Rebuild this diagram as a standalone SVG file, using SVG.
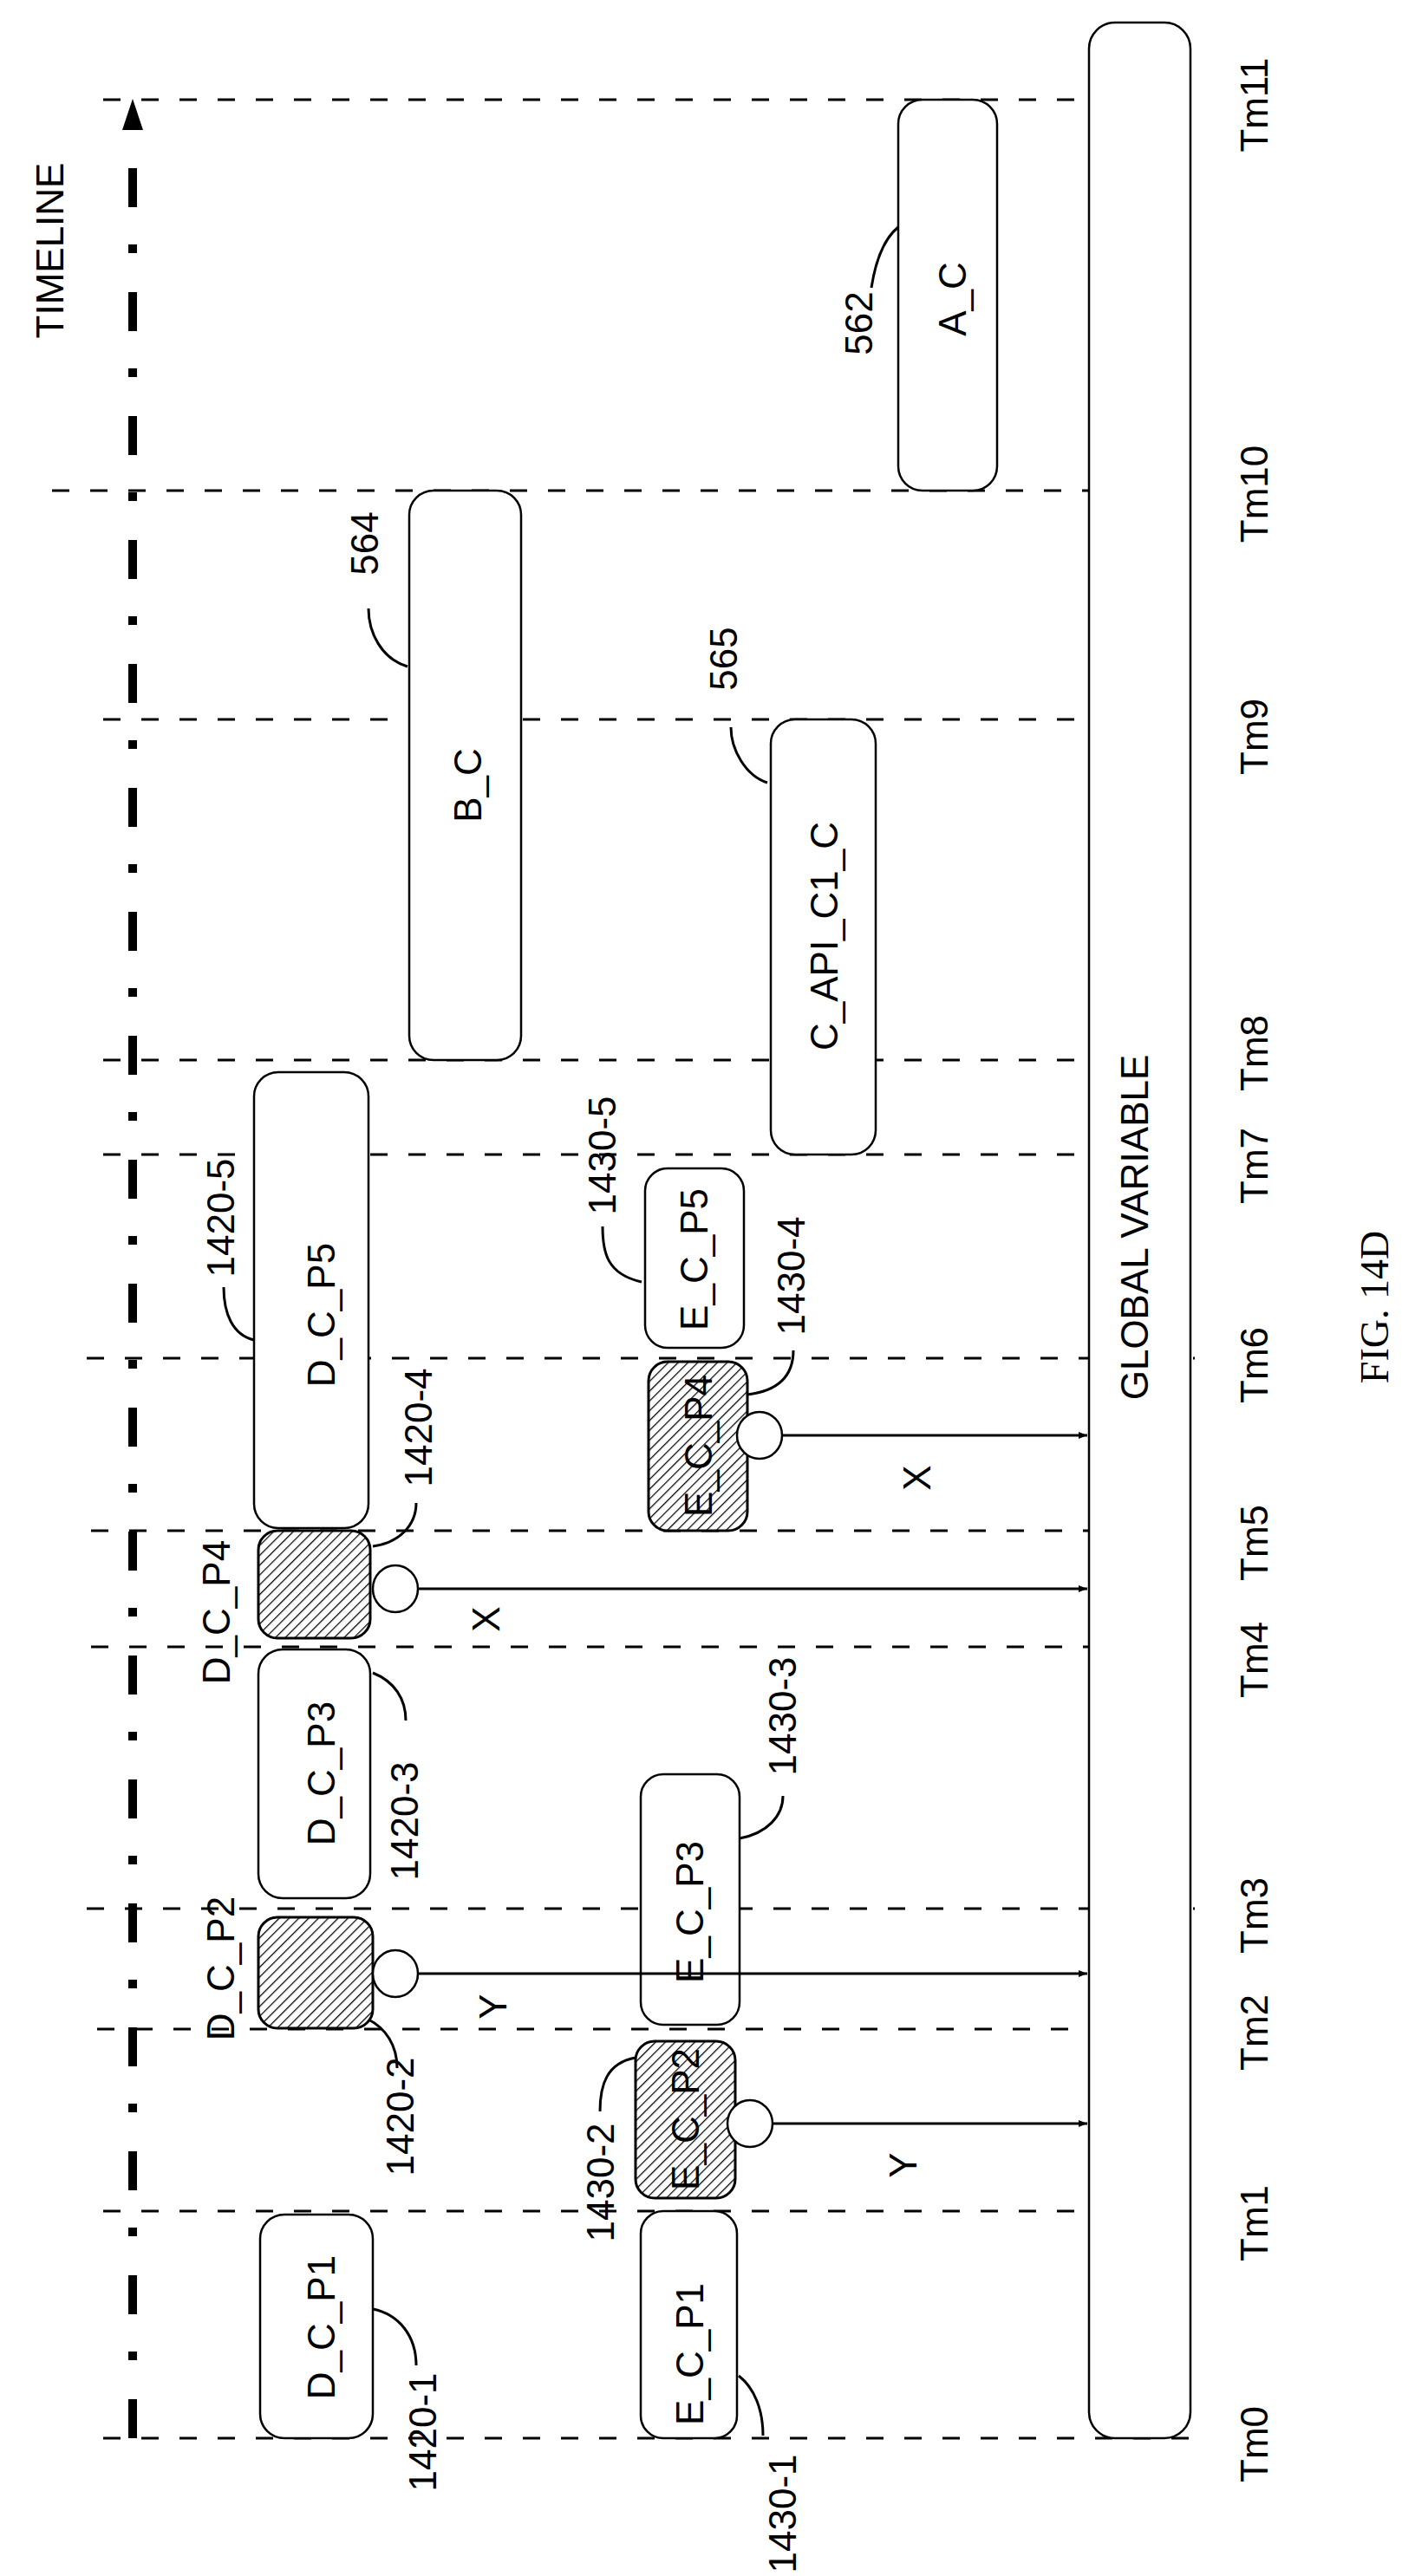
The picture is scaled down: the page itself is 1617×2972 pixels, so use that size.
<svg xmlns="http://www.w3.org/2000/svg" width="1617" height="2972" viewBox="0 0 1617 2972">
<style>
text{font-family:"Liberation Sans",Arial,sans-serif;font-size:44px;fill:#000;text-anchor:middle;dominant-baseline:central}
.box{fill:#fff;stroke:#000;stroke-width:2.5}
.hat{fill:url(#hatch);stroke:#000;stroke-width:3}
.tm{stroke:#000;stroke-width:3;stroke-dasharray:20 24;fill:none}
.lead{fill:none;stroke:#000;stroke-width:3}
.arr{stroke:#000;stroke-width:3;marker-end:url(#ah)}
.circ{fill:#fff;stroke:#000;stroke-width:2.5}
</style>
<defs>
<pattern id="hatch" width="8" height="8" patternUnits="userSpaceOnUse" patternTransform="rotate(45)">
<rect width="8" height="8" fill="#fff"/><line x1="0" y1="0" x2="0" y2="8" stroke="#000" stroke-width="2.5"/>
</pattern>
<marker id="ah" markerWidth="10" markerHeight="8" refX="10" refY="4" orient="auto" markerUnits="userSpaceOnUse" viewBox="0 0 10 8">
<path d="M0,0 L10,4 L0,8 Z" fill="#000"/>
</marker>
<marker id="ah2" markerWidth="24" markerHeight="36" refX="12" refY="36" orient="0" markerUnits="userSpaceOnUse">
<path d="M0,36 L12,0 L24,36 Z" fill="#000"/>
</marker>
</defs>
<g id="timelines">
<line class="tm" x1="119" y1="115" x2="1378" y2="115"/>
<line class="tm" x1="60" y1="566" x2="1378" y2="566"/>
<line class="tm" x1="119" y1="830" x2="1378" y2="830"/>
<line class="tm" x1="119" y1="1223" x2="1378" y2="1223"/>
<line class="tm" x1="119" y1="1332" x2="1378" y2="1332"/>
<line class="tm" x1="100" y1="1567" x2="1378" y2="1567"/>
<line class="tm" x1="105" y1="1766" x2="1378" y2="1766"/>
<line class="tm" x1="105" y1="1900" x2="1378" y2="1900"/>
<line class="tm" x1="100" y1="2202" x2="1378" y2="2202"/>
<line class="tm" x1="112" y1="2341" x2="1378" y2="2341"/>
<line class="tm" x1="119" y1="2551" x2="1378" y2="2551"/>
<line class="tm" x1="119" y1="2813" x2="1378" y2="2813"/>
<line x1="153" y1="2813" x2="153" y2="150" stroke="#000" stroke-width="10" stroke-dasharray="45 45 10 43" marker-end="url(#ah2)"/>
<text transform="translate(1446,121) rotate(-90)">Tm11</text>
<text transform="translate(1446,570) rotate(-90)">Tm10</text>
<text transform="translate(1446,850) rotate(-90)">Tm9</text>
<text transform="translate(1446,1215) rotate(-90)">Tm8</text>
<text transform="translate(1446,1345) rotate(-90)">Tm7</text>
<text transform="translate(1446,1575) rotate(-90)">Tm6</text>
<text transform="translate(1446,1780) rotate(-90)">Tm5</text>
<text transform="translate(1446,1915) rotate(-90)">Tm4</text>
<text transform="translate(1446,2210) rotate(-90)">Tm3</text>
<text transform="translate(1446,2345) rotate(-90)">Tm2</text>
<text transform="translate(1446,2565) rotate(-90)">Tm1</text>
<text transform="translate(1446,2820) rotate(-90)">Tm0</text>
<text transform="translate(57,289) rotate(-90)">TIMELINE</text>
<text transform="translate(1585,1508) rotate(-90)" style="font-family:'Liberation Serif',serif;font-size:46px">FIG. 14D</text>
</g>
<g id="global"><rect class="box" x="1256" y="26" width="117" height="2787" rx="30"/><text transform="translate(1308,1416) rotate(-90)">GLOBAL VARIABLE</text></g>
<g id="a_c"><rect class="box" x="1036" y="115" width="114" height="451" rx="28"/><text transform="translate(1098,345) rotate(-90)">A_C</text><text transform="translate(990,373) rotate(-90)">562</text><path class="lead" d="M1005,332 C1010,300 1020,275 1036,262"/></g>
<g id="b_c"><rect class="box" x="472" y="566" width="129" height="657" rx="28"/><text transform="translate(539,906) rotate(-90)">B_C</text><text transform="translate(420,627) rotate(-90)">564</text><path class="lead" d="M425,702 C425,730 440,760 470,769"/></g>
<g id="c_api"><rect class="box" x="889" y="830" width="121" height="502" rx="28"/><text transform="translate(950,1080) rotate(-90)">C_API_C1_C</text><text transform="translate(834,760) rotate(-90)">565</text><path class="lead" d="M843,839 C843,865 860,895 885,903"/></g>
<g id="dcp5"><rect class="box" x="293" y="1237" width="132" height="526" rx="28"/><text transform="translate(370,1517) rotate(-90)">D_C_P5</text><text transform="translate(254,1405) rotate(-90)">1420-5</text><path class="lead" d="M258,1485 C258,1515 268,1540 293,1546"/></g>
<g id="dcp4"><rect class="hat" x="298" y="1766" width="129" height="124" rx="22"/><text transform="translate(249,1860) rotate(-90)">D_C_P4</text><text transform="translate(482,1647) rotate(-90)">1420-4</text><path class="lead" d="M480,1734 C480,1760 460,1780 430,1784"/><ellipse class="circ" cx="456" cy="1833" rx="26" ry="27"/></g>
<g id="dcp3"><rect class="box" x="298" y="1903" width="129" height="287" rx="28"/><text transform="translate(370,2046) rotate(-90)">D_C_P3</text><text transform="translate(466,2101) rotate(-90)">1420-3</text><path class="lead" d="M430,1930 C455,1940 468,1960 468,1985"/></g>
<g id="dcp2"><rect class="hat" x="298" y="2212" width="132" height="128" rx="22"/><text transform="translate(254,2271) rotate(-90)">D_C_P2</text><text transform="translate(461,2442) rotate(-90)">1420-2</text><path class="lead" d="M425,2330 C445,2340 458,2360 458,2386"/><ellipse class="circ" cx="456" cy="2277" rx="26" ry="27"/></g>
<g id="dcp1"><rect class="box" x="300" y="2555" width="130" height="258" rx="28"/><text transform="translate(370,2685) rotate(-90)">D_C_P1</text><text transform="translate(487,2806) rotate(-90)">1420-1</text><path class="lead" d="M430,2664 C460,2670 480,2695 480,2729"/></g>
<g id="ecp5"><rect class="box" x="744" y="1348" width="114" height="207" rx="26"/><text transform="translate(800,1453) rotate(-90)">E_C_P5</text><text transform="translate(694,1333) rotate(-90)">1430-5</text><path class="lead" d="M695,1415 C695,1445 700,1470 740,1479"/></g>
<g id="ecp4"><rect class="hat" x="748" y="1571" width="114" height="195" rx="22"/><text transform="translate(805,1668) rotate(-90)">E_C_P4</text><text transform="translate(912,1472) rotate(-90)">1430-4</text><path class="lead" d="M915,1558 C915,1590 895,1605 862,1609"/><ellipse class="circ" cx="876" cy="1656" rx="26" ry="27"/></g>
<g id="ecp3"><rect class="box" x="739" y="2047" width="114" height="289" rx="26"/><text transform="translate(795,2206) rotate(-90)">E_C_P3</text><text transform="translate(902,1980) rotate(-90)">1430-3</text><path class="lead" d="M853,2121 C885,2115 903,2095 903,2072"/></g>
<g id="ecp2"><rect class="hat" x="733" y="2355" width="115" height="181" rx="22"/><text transform="translate(790,2445) rotate(-90)">E_C_P2</text><text transform="translate(692,2518) rotate(-90)">1430-2</text><path class="lead" d="M692,2436 C692,2405 700,2380 733,2374"/><ellipse class="circ" cx="865" cy="2450" rx="26" ry="27"/></g>
<g id="ecp1"><rect class="box" x="739" y="2551" width="111" height="262" rx="26"/><text transform="translate(795,2716) rotate(-90)">E_C_P1</text><text transform="translate(902,2900) rotate(-90)">1430-1</text><path class="lead" d="M852,2741 C870,2755 880,2780 880,2810"/></g>
<g id="connectors">
<line class="arr" x1="482" y1="1833" x2="1254" y2="1833"/>
<line class="arr" x1="902" y1="1656" x2="1254" y2="1656"/>
<line class="arr" x1="482" y1="2277" x2="1254" y2="2277"/>
<line class="arr" x1="891" y1="2450" x2="1254" y2="2450"/>
<text transform="translate(560,1868) rotate(-90)">X</text>
<text transform="translate(1057,1705) rotate(-90)">X</text>
<text transform="translate(568,2315) rotate(-90)">Y</text>
<text transform="translate(1041,2498) rotate(-90)">Y</text>
</g>
</svg>
